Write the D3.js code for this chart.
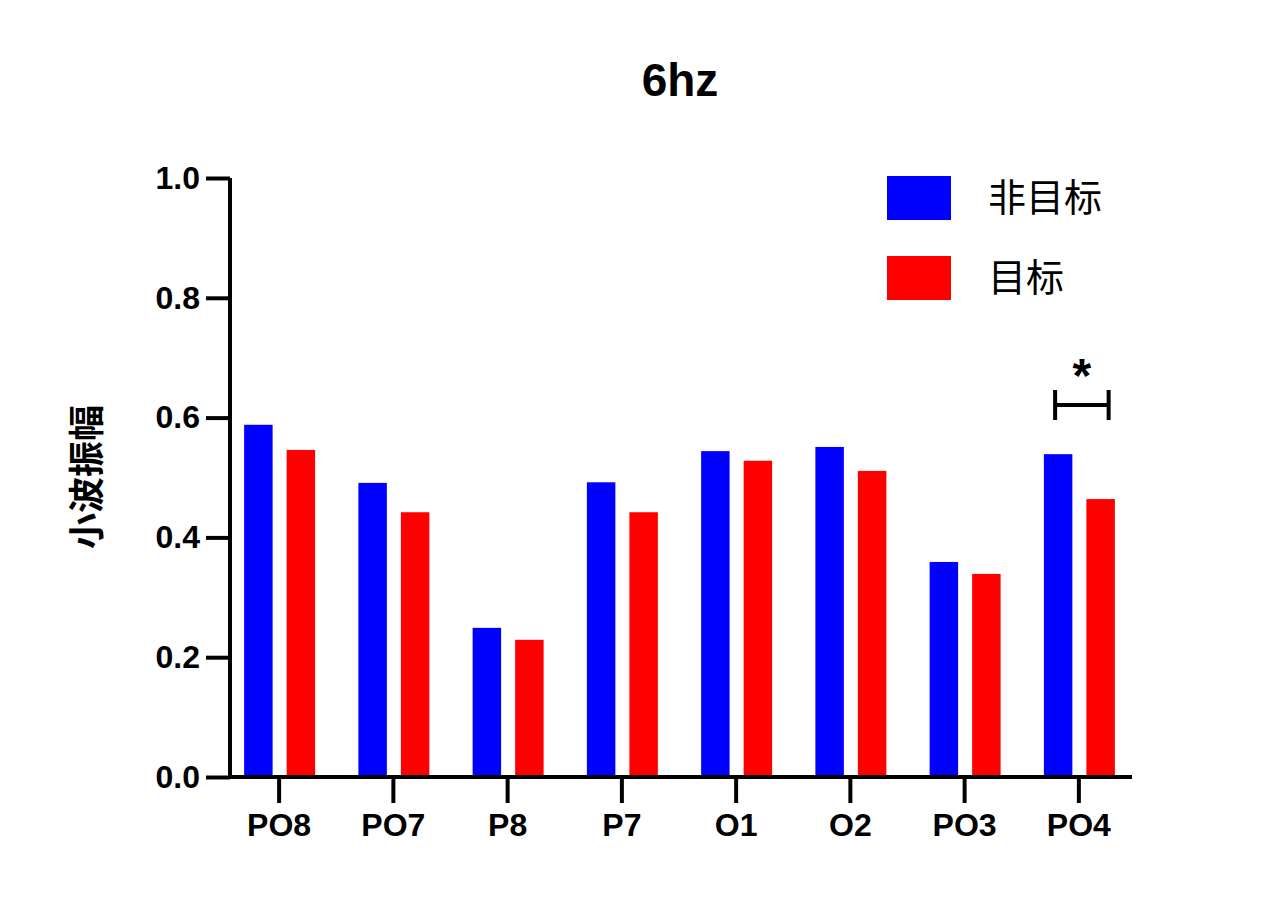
<!DOCTYPE html>
<html>
<head>
<meta charset="utf-8">
<script src="https://cdn.jsdelivr.net/npm/d3@7"></script>
<style>
body { margin: 0; background: #fff; }
text { font-family: Arial, "Liberation Sans", sans-serif; }
</style>
</head>
<body>
<div id="chart"></div>
<script>
// chart data
let categories = ["PO8", "PO7", "P8", "P7", "O1", "O2", "PO3", "PO4"];
let seriesNames = ["非目标", "目标"];
let nonTarget = [0.588, 0.491, 0.249, 0.492, 0.544, 0.551, 0.359, 0.539];
let target = [0.546, 0.442, 0.229, 0.442, 0.528, 0.511, 0.339, 0.464];
let yTicks = [0.0, 0.2, 0.4, 0.6, 0.8, 1.0];
let colors = ["#0000ff", "#ff0000"];
let sigIndex = 7;

let svg = d3.select("#chart").append("svg")
    .attr("width", 1272).attr("height", 901);

let x = d3.scaleBand().domain(categories).range([222, 1136]);
let inner = d3.scaleBand().domain([0, 1]).range([-35, 36]).paddingInner(0.33);
let y = d3.scaleLinear().domain([0, 1]).range([777, 178]);

// bars
let groups = svg.selectAll("g.cat")
    .data(categories)
    .enter().append("g")
    .attr("transform", d => `translate(${x(d) + x.bandwidth() / 2},0)`);

[nonTarget, target].forEach(function(vals, s) {
    groups.append("rect")
        .attr("x", inner(s))
        .attr("width", inner.bandwidth())
        .attr("y", (d, i) => y(vals[i]))
        .attr("height", (d, i) => y(0) - y(vals[i]))
        .attr("fill", colors[s]);
});

// axes
let leftAxis = d3.axisLeft(y).tickValues(yTicks).tickFormat(d3.format(".1f")).tickSize(24).tickPadding(6);
let yg = svg.append("g").attr("transform", "translate(230,0)").call(leftAxis);
yg.select(".domain").attr("stroke-width", 4).attr("d", `M0,${y(1)}V${y(0)}`);
yg.selectAll(".tick line").attr("stroke-width", 4);
yg.selectAll(".tick text").attr("font-size", 32).attr("font-weight", "bold").attr("fill", "#000");

let xg = svg.append("g").attr("transform", `translate(0,${y(0)})`)
    .call(d3.axisBottom(x).tickSize(26).tickPadding(10));
xg.select(".domain").attr("stroke-width", 4).attr("d", "M228,0H1132");
xg.selectAll(".tick line").attr("stroke-width", 4);
xg.selectAll(".tick text").attr("font-size", 32).attr("font-weight", "bold").attr("fill", "#000");

// title and label
svg.append("text").attr("x", 680).attr("y", 96).attr("text-anchor", "middle")
    .attr("font-size", 46).attr("font-weight", "bold").text("6hz");
svg.append("text")
    .attr("transform", "translate(100,477) rotate(-90)")
    .attr("text-anchor", "middle")
    .attr("font-size", 36).attr("font-weight", "bold")
    .style("font-family", "'Noto Sans CJK SC', sans-serif")
    .text("小波振幅");

// legend
seriesNames.forEach(function(name, i) {
    svg.append("rect").attr("x", 887).attr("y", 176 + i * 80)
        .attr("width", 64).attr("height", 44).attr("fill", colors[i]);
    svg.append("text").attr("x", 988).attr("y", 211 + i * 80)
        .attr("font-size", 38)
        .style("font-family", "'Noto Sans CJK SC', sans-serif")
        .text(name);
});

// significance bracket
let cx = x(categories[sigIndex]) + x.bandwidth() / 2;
let by = 405;
let bl = cx + inner(0) + inner.bandwidth() / 2 - 3, br = cx + inner(1) + inner.bandwidth() / 2 + 8;
svg.append("path")
    .attr("d", `M${bl},${by - 15}V${by + 15}M${bl},${by}H${br}M${br},${by - 15}V${by + 15}`)
    .attr("stroke", "#000").attr("stroke-width", 4).attr("fill", "none");
svg.append("text").attr("x", (bl + br) / 2).attr("y", 392).attr("text-anchor", "middle")
    .attr("font-size", 48).attr("font-weight", "bold").text("*");
</script>
</body>
</html>
